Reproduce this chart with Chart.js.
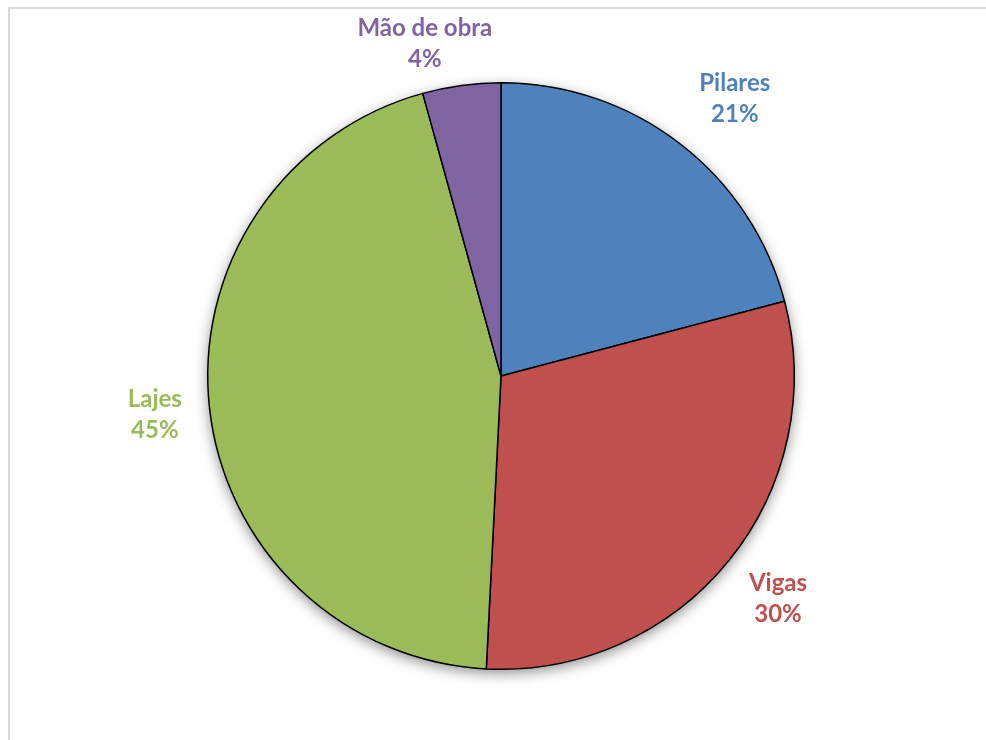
<!DOCTYPE html>
<html>
<head>
<meta charset="utf-8">
<script src="https://cdn.jsdelivr.net/npm/chart.js"></script>
<style>
  html, body { margin:0; padding:0; background:#fff; overflow:hidden; }
  canvas { display:block; }
</style>
</head>
<body>
<canvas id="pizza" width="986" height="740"></canvas>
<script>
// dados do grafico
const categorias = ['Pilares', 'Vigas', 'Lajes', 'Mão de obra'];
const valores = [20.9, 29.9, 44.9, 4.3];
const cores = ['#4F81BD', '#C0504D', '#9BBB59', '#8064A2'];

const total = valores.reduce((a, b) => a + b, 0);

// moldura cinza (so topo e esquerda aparecem)
const moldura = {
  id: 'moldura',
  beforeDraw(chart) {
    const ctx = chart.ctx;
    ctx.save();
    ctx.strokeStyle = '#d9d9d9';
    ctx.lineWidth = 2;
    ctx.beginPath();
    ctx.moveTo(9, chart.height + 5);
    ctx.lineTo(9, 8);
    ctx.lineTo(chart.width + 5, 8);
    ctx.stroke();
    ctx.restore();
  }
};

// sombra suave atras da pizza
const sombra = {
  id: 'sombra',
  beforeDatasetsDraw(chart) {
    const arc = chart.getDatasetMeta(0).data[0];
    if (!arc) return;
    const ctx = chart.ctx;
    ctx.save();
    ctx.shadowColor = 'rgba(0,0,0,0.45)';
    ctx.shadowBlur = 14;
    ctx.shadowOffsetY = 4;
    ctx.fillStyle = '#fff';
    ctx.beginPath();
    ctx.arc(arc.x, arc.y, arc.outerRadius, 0, Math.PI * 2);
    ctx.fill();
    ctx.restore();
  }
};

// rotulos fora das fatias (nome + %)
const rotulos = {
  id: 'rotulos',
  afterDatasetsDraw(chart, args, opts) {
    const ctx = chart.ctx;
    const meta = chart.getDatasetMeta(0);
    const ajuste = opts.ajuste || [];
    ctx.save();
    ctx.font = 'bold 24px Lato, "Open Sans", sans-serif';
    ctx.textAlign = 'center';
    ctx.textBaseline = 'middle';
    const lh = 31;
    meta.data.forEach((arc, i) => {
      const mid = (arc.startAngle + arc.endAngle) / 2;
      const pct = Math.round(valores[i] / total * 100) + '%';
      const d = arc.outerRadius + opts.distancia;
      const a = ajuste[i] || [0, 0];
      const x = arc.x + Math.cos(mid) * d + a[0];
      const y = arc.y + Math.sin(mid) * d + a[1];
      ctx.fillStyle = cores[i];
      ctx.fillText(categorias[i], x, y - lh / 2);
      ctx.fillText(pct, x, y + lh / 2);
    });
    ctx.restore();
  }
};

const ctx = document.getElementById('pizza');
const grafico = new Chart(ctx, {
  type: 'pie',
  data: {
    labels: categorias,
    datasets: [{
      data: valores,
      backgroundColor: cores,
      borderColor: '#000',
      borderWidth: 1.5
    }]
  },
  options: {
    responsive: false,
    animation: false,
    layout: { padding: { top: 82, bottom: 70, left: 100, right: 84 } },
    plugins: {
      legend: { display: false },
      tooltip: { enabled: false },
      rotulos: { distancia: 57, ajuste: [[20, 0], [5, 2], [2, 0], [-29, 15]] }
    }
  },
  plugins: [moldura, sombra, rotulos]
});
</script>
</body>
</html>
